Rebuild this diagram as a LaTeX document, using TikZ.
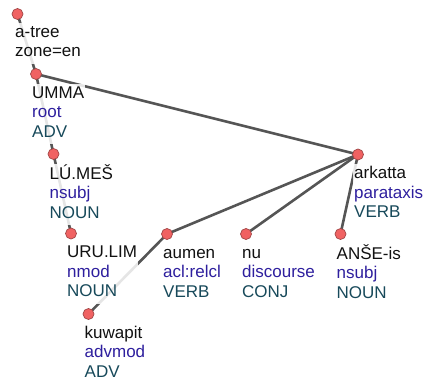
\documentclass[tikz,border=0pt]{standalone}
\usepackage{fontspec}
\setmainfont{Liberation Sans}
\usetikzlibrary{backgrounds}

\definecolor{edgegray}{HTML}{555555}
\definecolor{dotfill}{HTML}{F06262}
\definecolor{dotline}{HTML}{A04646}
\definecolor{formcol}{HTML}{111111}
\definecolor{relcol}{HTML}{2E1F9E}
\definecolor{uposcol}{HTML}{17495A}

\tikzset{
  dot/.style={circle, inner sep=0pt, minimum size=11pt, fill=dotfill, draw=dotline, line width=0.7pt},
  edge/.style={draw=edgegray, line width=2.6pt},
  lbl/.style={anchor=north west, align=left, inner sep=1pt,
    fill=white, fill opacity=0.85, text opacity=1,
    font=\fontsize{17}{19.5}\selectfont}
}

% token: name, x, y, form, deprel, upos
% the first baseline sits 24pt below the dot; a strut is 13.65pt high
\newcommand\deptoken[6]{%
  \node[lbl] (#1-lbl) at (#2-5,#3+24-14.65)
    {\strut\textcolor{formcol}{#4}\\ \strut\textcolor{relcol}{#5}\\ \strut\textcolor{uposcol}{#6}};
  \node[dot] (#1) at (#2,#3) {};
}

\begin{document}
\begin{tikzpicture}[x=1pt,y=-1pt]
  \useasboundingbox (0,0) rectangle (423,381);

  % sentence root
  \node[lbl] (root-lbl) at (14,37-14.65)
    {\strut\textcolor{formcol}{a-tree}\\ \strut\textcolor{formcol}{zone=en}};
  \node[dot] (root) at (17.5,14) {};

  \deptoken{umma}{36}{74}{UMMA}{root}{ADV}
  \deptoken{lumes}{53.5}{154}{LÚ.MEŠ}{nsubj}{NOUN}
  \deptoken{urulim}{71}{233.5}{URU.LIM}{nmod}{NOUN}
  \deptoken{kuwapit}{88.5}{314}{kuwapit}{advmod}{ADV}
  \deptoken{arkatta}{358}{154.5}{arkatta}{parataxis}{VERB}
  \deptoken{aumen}{167}{234}{aumen}{acl:relcl}{VERB}
  \deptoken{nu}{246}{234}{nu}{discourse}{CONJ}
  \deptoken{anse}{340.5}{234}{ANŠE-is}{nsubj}{NOUN}

  % dependency edges, beneath dots and labels
  \begin{pgfonlayer}{background}
    \draw[edge] (root.center) -- (umma.center);
    \draw[edge] (umma.center) -- (lumes.center);
    \draw[edge] (umma.center) -- (arkatta.center);
    \draw[edge] (lumes.center) -- (urulim.center);
    \draw[edge] (arkatta.center) -- (aumen.center);
    \draw[edge] (arkatta.center) -- (nu.center);
    \draw[edge] (arkatta.center) -- (anse.center);
    \draw[edge] (aumen.center) -- (kuwapit.center);
  \end{pgfonlayer}
\end{tikzpicture}
\end{document}
